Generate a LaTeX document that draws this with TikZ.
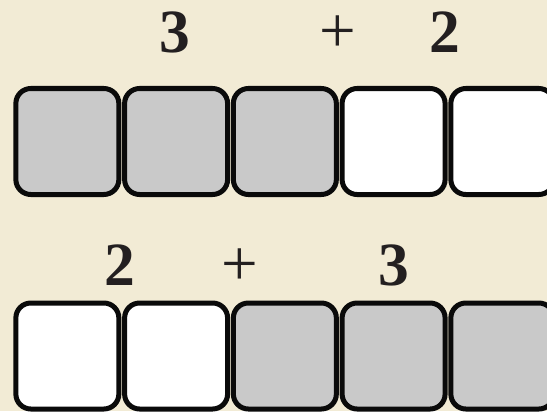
\documentclass[tikz,border=0pt]{standalone}
\usepackage{fontspec}
\setmainfont{Liberation Serif}
\usetikzlibrary{
  positioning,
  calc,
}
\definecolor{paperbg}{RGB}{242,235,213}
\definecolor{unitgray}{RGB}{201,201,201}
\definecolor{unitline}{RGB}{10,10,10}
\definecolor{inkcol}{RGB}{35,31,32}
\tikzset{
  unitbox/.style={
    rectangle, draw=unitline, line width=0.1cm, rounded corners=0.3cm,
    minimum width=2.06cm, minimum height=2.12cm, inner sep=0pt, outer sep=0pt
  },
  grayunit/.style={unitbox, fill=unitgray},
  whiteunit/.style={unitbox, fill=white},
  numlabel/.style={anchor=base, font=\fontsize{35}{40}\selectfont\bfseries, text=inkcol},
  opslabel/.style={anchor=base, font=\fontsize{37}{40}\selectfont, text=inkcol},
}

\begin{document}
\begin{tikzpicture}[node distance=0.115cm]

  % ── Paper ──
  \useasboundingbox (0,0) rectangle (10.94,8.22);
  \clip (0,0) rectangle (10.94,8.22);
  \fill[paperbg] (0,0) rectangle (10.94,8.22);

  % ── Top row: 3 + 2 ──
  \node[grayunit] (T1) at (1.347,5.39) {};
  \node[grayunit, right=of T1] (T2) {};
  \node[grayunit, right=of T2] (T3) {};
  \node[whiteunit, right=of T3] (T4) {};
  \node[whiteunit, right=of T4] (T5) {};

  % ── Bottom row: 2 + 3 ──
  \node[whiteunit] (B1) at (1.347,1.10) {};
  \node[whiteunit, right=of B1] (B2) {};
  \node[grayunit, right=of B2] (B3) {};
  \node[grayunit, right=of B3] (B4) {};
  \node[grayunit, right=of B4] (B5) {};

  % ── Labels ──
  \node[numlabel] (Tthree) at (3.50,7.16) {3};
  \node[opslabel] (Tplus) at (6.76,7.16) {+};
  \node[numlabel] (Ttwo) at (8.90,7.16) {2};

  \node[numlabel] (Btwo) at (2.40,2.52) {2};
  \node[opslabel] (Bplus) at (4.80,2.52) {+};
  \node[numlabel] (Bthree) at (7.88,2.52) {3};

\end{tikzpicture}
\end{document}
